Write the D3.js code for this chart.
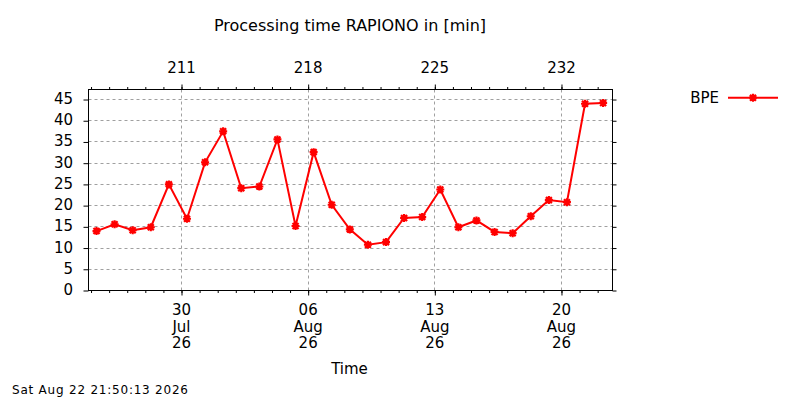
<!DOCTYPE html>
<html>
<head>
<meta charset="utf-8">
<script src="https://cdn.jsdelivr.net/npm/d3@7"></script>
<style>
  body { margin: 0; background: #fff; }
  svg { display: block; font-family: "DejaVu Sans", sans-serif; }
</style>
</head>
<body>
<svg id="chart" width="800" height="400"></svg>
<script>
// one run per day, BPE processing time in minutes
const runDays = [
  "2026-07-25", "2026-07-26", "2026-07-27", "2026-07-28", "2026-07-29",
  "2026-07-30", "2026-07-31", "2026-08-01", "2026-08-02", "2026-08-03",
  "2026-08-04", "2026-08-05", "2026-08-06", "2026-08-07", "2026-08-08",
  "2026-08-09", "2026-08-10", "2026-08-11", "2026-08-12", "2026-08-13",
  "2026-08-14", "2026-08-15", "2026-08-16", "2026-08-17", "2026-08-18",
  "2026-08-19", "2026-08-20", "2026-08-21", "2026-08-22",
];
const runTime = "07:15";
const bpeMinutes = [
  14.0, 15.6, 14.2, 14.9, 25.0, 16.9, 30.2, 37.5, 24.1, 24.5,
  35.6, 15.2, 32.6, 20.2, 14.4, 10.8, 11.4, 17.1, 17.3, 23.8,
  14.9, 16.5, 13.8, 13.5, 17.5, 21.3, 20.8, 44.0, 44.2,
];
const xDomain = ["2026-07-24T20:38Z", "2026-08-22T19:41Z"];
const xTickDates = ["2026-07-30", "2026-08-06", "2026-08-13", "2026-08-20"];
const x2TickDays = [211, 218, 225, 232];
const yTicks = [0, 5, 10, 15, 20, 25, 30, 35, 40, 45];
const yMax = 47.36;
const seriesName = "BPE";
const title = "Processing time RAPIONO in [min]";
const xLabel = "Time";
const stamp = "Sat Aug 22 21:50:13 2026";

const svg = d3.select("#chart");
const plotL = 88.5, plotR = 612.5, plotT = 89.5, plotB = 290.5;
const red = "#ff0000";
const day = 864e5;

const data = runDays.map((d, i) => ({
  date: new Date(d + "T" + runTime + "Z"),
  value: bpeMinutes[i],
}));

const x = d3.scaleUtc()
  .domain(xDomain.map((d) => new Date(d)))
  .range([plotL, plotR]);
const yearStart = Date.UTC(2026, 0, 1);
const doy = (d) => (d - yearStart) / day + 1;
const x2 = d3.scaleLinear()
  .domain(x.domain().map(doy))
  .range([plotL, plotR]);
const y = d3.scaleLinear().domain([0, yMax]).range([plotB, plotT]);

const tickDates = xTickDates.map((d) => new Date(d + "T00:00Z"));
const dayTicks = d3.utcDay.range(x.domain()[0], x.domain()[1]);
const snap = (v) => Math.round(v - 0.5) + 0.5;

// grid
const grid = svg.append("g")
  .attr("stroke", "#a0a0a0")
  .attr("stroke-width", 1)
  .attr("stroke-dasharray", "3,3")
  .attr("fill", "none");
grid.selectAll(".gx")
  .data(tickDates)
  .join("line")
  .attr("class", "gx")
  .attr("x1", (d) => snap(x(d)))
  .attr("x2", (d) => snap(x(d)))
  .attr("y1", plotT)
  .attr("y2", plotB);
grid.selectAll(".gy")
  .data(yTicks.filter((d) => d > 0))
  .join("line")
  .attr("class", "gy")
  .attr("x1", plotL)
  .attr("x2", plotR)
  .attr("y1", (d) => snap(y(d)))
  .attr("y2", (d) => snap(y(d)));

// axes (ticks only, labels drawn separately)
const noLabel = () => "";
const axisStyle = (g) => {
  g.select(".domain").remove();
  g.selectAll("line").attr("stroke", "#000");
  g.selectAll("text").remove();
};
svg.append("g")
  .attr("transform", `translate(0,${plotB})`)
  .call(d3.axisBottom(x).tickValues(dayTicks).tickSize(2.5).tickFormat(noLabel))
  .call(axisStyle);
svg.append("g")
  .attr("transform", `translate(0,${plotB})`)
  .call(d3.axisBottom(x).tickValues(tickDates).tickSize(5).tickFormat(noLabel))
  .call(axisStyle);
svg.append("g")
  .attr("transform", `translate(0,${plotT})`)
  .call(d3.axisTop(x).tickValues(dayTicks).tickSize(2.5).tickFormat(noLabel))
  .call(axisStyle);
svg.append("g")
  .attr("transform", `translate(0,${plotT})`)
  .call(d3.axisTop(x2).tickValues(x2TickDays).tickSize(5).tickFormat(noLabel))
  .call(axisStyle);
svg.append("g")
  .attr("transform", `translate(${plotL},0)`)
  .call(d3.axisLeft(y).tickValues(yTicks).tickSize(5).tickFormat(noLabel))
  .call(axisStyle);
svg.append("g")
  .attr("transform", `translate(${plotR},0)`)
  .call(d3.axisRight(y).tickValues(yTicks).tickSize(4).tickFormat(noLabel))
  .call(axisStyle);

// border
svg.append("rect")
  .attr("x", plotL)
  .attr("y", plotT)
  .attr("width", plotR - plotL)
  .attr("height", plotB - plotT)
  .attr("fill", "none")
  .attr("stroke", "#000")
  .attr("stroke-width", 1);

// tick labels
const labels = svg.append("g").attr("font-size", "15px").attr("fill", "#000");
labels.selectAll(".ylab")
  .data(yTicks)
  .join("text")
  .attr("class", "ylab")
  .attr("x", 73)
  .attr("y", (d) => y(d) + 4.5)
  .attr("text-anchor", "end")
  .text((d) => d);
labels.selectAll(".x2lab")
  .data(x2TickDays)
  .join("text")
  .attr("class", "x2lab")
  .attr("x", (d) => x2(d))
  .attr("y", 73.3)
  .attr("text-anchor", "middle")
  .text((d) => d);
const dateLines = [d3.utcFormat("%d"), d3.utcFormat("%b"), d3.utcFormat("%y")];
labels.selectAll(".xlab")
  .data(tickDates)
  .join("text")
  .attr("class", "xlab")
  .attr("text-anchor", "middle")
  .selectAll("tspan")
  .data((d) => dateLines.map((f, i) => ({ d, i, s: f(d) })))
  .join("tspan")
  .attr("x", (t) => x(t.d))
  .attr("y", (t) => 315 + t.i * 16.7)
  .text((t) => t.s);

// titles
svg.append("text")
  .attr("x", 350)
  .attr("y", 31)
  .attr("text-anchor", "middle")
  .attr("font-size", "16px")
  .text(title);
svg.append("text")
  .attr("x", 349.5)
  .attr("y", 374)
  .attr("text-anchor", "middle")
  .attr("font-size", "15px")
  .text(xLabel);
svg.append("text")
  .attr("x", 12)
  .attr("y", 394.3)
  .attr("font-size", "12px")
  .attr("textLength", 176)
  .attr("lengthAdjust", "spacing")
  .text(stamp);

// series
const marker = "M-4,0H4M0,-4V4M-3,-3L3,3M-3,3L3,-3";
svg.append("path")
  .datum(data)
  .attr("fill", "none")
  .attr("stroke", red)
  .attr("stroke-width", 2)
  .attr("d", d3.line().x((d) => x(d.date)).y((d) => y(d.value)));
svg.append("g")
  .selectAll("path")
  .data(data)
  .join("path")
  .attr("transform", (d) => `translate(${x(d.date)},${y(d.value)})`)
  .attr("d", marker)
  .attr("fill", "none")
  .attr("stroke", red)
  .attr("stroke-width", 2.2);

// legend
const legend = svg.append("g").attr("transform", "translate(0,97.7)");
legend.append("text")
  .attr("x", 719)
  .attr("y", 5)
  .attr("text-anchor", "end")
  .attr("font-size", "15px")
  .text(seriesName);
legend.append("line")
  .attr("x1", 728)
  .attr("x2", 778)
  .attr("stroke", red)
  .attr("stroke-width", 2);
legend.append("path")
  .attr("transform", "translate(753,0)")
  .attr("d", marker)
  .attr("fill", "none")
  .attr("stroke", red)
  .attr("stroke-width", 2.2);
</script>
</body>
</html>
